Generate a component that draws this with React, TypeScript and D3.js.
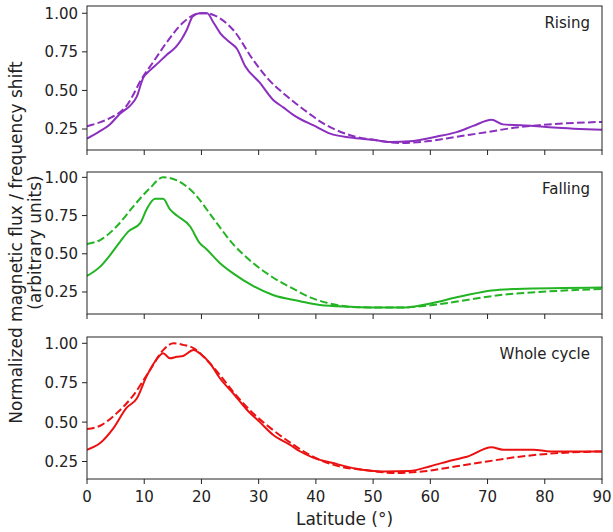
import React from "react";
import * as d3 from "d3";

// ---------- data ----------
const risingObsLat = [0, 2, 4, 5.8, 7.5, 8.7, 9.8, 11, 12.5, 13.9, 15.5, 16.5, 17.4, 18.5, 19.7, 21, 22.1, 23.3, 25, 26.2, 27.6, 30.2, 32.5, 34.3, 36.1, 37.5, 39.5, 42.5, 46, 50, 53, 56.4, 61, 64.6, 67.5, 70.7, 72.7, 78, 81.5, 90];
const risingObsVal = [0.188, 0.23, 0.28, 0.35, 0.4, 0.46, 0.58, 0.63, 0.68, 0.73, 0.78, 0.83, 0.89, 0.98, 1.0, 1.0, 0.94, 0.87, 0.81, 0.77, 0.66, 0.55, 0.44, 0.39, 0.34, 0.31, 0.275, 0.22, 0.195, 0.18, 0.166, 0.17, 0.2, 0.23, 0.27, 0.31, 0.28, 0.27, 0.26, 0.245];
const risingModLat = [0, 2, 4, 6.9, 9.8, 11.5, 13.9, 16.8, 19.7, 21, 22, 25.6, 29, 31.5, 35, 37.2, 39, 40.7, 46, 50, 54.7, 59.4, 64.6, 69.9, 75, 79, 90];
const risingModVal = [0.268, 0.29, 0.32, 0.4, 0.59, 0.68, 0.81, 0.94, 1.0, 1.0, 0.99, 0.89, 0.7, 0.58, 0.46, 0.395, 0.345, 0.3, 0.21, 0.18, 0.16, 0.17, 0.2, 0.23, 0.26, 0.275, 0.296];

const fallingObsLat = [0, 2.3, 4, 5.8, 7.2, 9.3, 10.4, 11.9, 13.3, 14.5, 15.7, 18, 19.7, 20.9, 23.2, 25.6, 29, 32.5, 37.2, 40.7, 46, 51.8, 55, 59.4, 64.6, 66.4, 70.7, 75, 90];
const fallingObsVal = [0.355, 0.416, 0.49, 0.58, 0.645, 0.7, 0.79, 0.86, 0.86, 0.79, 0.75, 0.68, 0.57, 0.53, 0.44, 0.37, 0.29, 0.23, 0.19, 0.165, 0.154, 0.148, 0.148, 0.17, 0.215, 0.23, 0.26, 0.27, 0.28];
const fallingModLat = [0, 2.3, 5.2, 8.1, 11, 13.3, 15.7, 18.6, 22.1, 25.6, 29, 32.5, 36.1, 39, 41.9, 47.7, 54.7, 60.5, 66.4, 72.2, 79, 90];
const fallingModVal = [0.564, 0.59, 0.68, 0.81, 0.93, 1.0, 0.98, 0.9, 0.73, 0.56, 0.44, 0.345, 0.27, 0.215, 0.18, 0.15, 0.148, 0.165, 0.198, 0.23, 0.25, 0.27];

const wholeObsLat = [0, 2.3, 4.6, 6.9, 8.7, 10.4, 12.2, 13.3, 14.5, 15.7, 16.8, 18.6, 19.7, 21.5, 23.2, 25.6, 27.9, 30.2, 32.5, 35.5, 37.2, 39.5, 43, 47.1, 51.8, 56.4, 60, 64, 66.4, 70.7, 72.7, 78, 81, 90];
const wholeObsVal = [0.325, 0.367, 0.46, 0.59, 0.65, 0.79, 0.9, 0.937, 0.905, 0.915, 0.92, 0.957, 0.937, 0.873, 0.78, 0.68, 0.58, 0.5, 0.42, 0.356, 0.315, 0.275, 0.24, 0.204, 0.187, 0.19, 0.22, 0.26, 0.28, 0.34, 0.325, 0.325, 0.314, 0.314];
const wholeModLat = [0, 2.3, 5.2, 8.1, 11, 13.3, 15.1, 16.8, 18.6, 20.9, 23.2, 25.6, 29, 32.5, 36.1, 39, 43, 48.9, 54, 59.4, 64.6, 69.9, 75, 81, 90];
const wholeModVal = [0.456, 0.477, 0.557, 0.67, 0.83, 0.957, 1.0, 0.99, 0.97, 0.895, 0.8, 0.69, 0.557, 0.45, 0.356, 0.29, 0.23, 0.194, 0.177, 0.19, 0.22, 0.25, 0.278, 0.3, 0.314];

const panelTitles = ["Rising", "Falling", "Whole cycle"];
const xTicks = [0, 10, 20, 30, 40, 50, 60, 70, 80, 90];
const yTicks = [0.25, 0.5, 0.75, 1.0];
const xLabel = "Latitude (°)";
const yLabel1 = "Normalized magnetic flux / frequency shift";
const yLabel2 = "(arbitrary units)";

// ---------- layout ----------
const W = 613, H = 532;
const left = 87, right = 602;
const panels = [
  { top: 6, bottom: 150, domain: [0.114, 1.047], color: "#8b2fbf", obsLat: risingObsLat, obsVal: risingObsVal, modLat: risingModLat, modVal: risingModVal },
  { top: 172, bottom: 314, domain: [0.106, 1.035], color: "#22b422", obsLat: fallingObsLat, obsVal: fallingObsVal, modLat: fallingModLat, modVal: fallingModVal },
  { top: 337, bottom: 479, domain: [0.139, 1.04], color: "#ec1111", obsLat: wholeObsLat, obsVal: wholeObsVal, modLat: wholeModLat, modVal: wholeModVal },
];
const font = "'DejaVu Sans', sans-serif";

export default function App() {
  const x = d3.scaleLinear().domain([0, 90]).range([left, right]);
  return (
    <svg width={W} height={H} style={{ position: "absolute", left: 0, top: 0, background: "#fff" }} fontFamily={font}>
      {panels.map((p, i) => {
        const y = d3.scaleLinear().domain(p.domain).range([p.bottom, p.top]);
        const line = d3.line<[number, number]>().x(d => x(d[0])).y(d => y(d[1])).curve(d3.curveMonotoneX);
        const obs = p.obsLat.map((l, k) => [l, p.obsVal[k]] as [number, number]);
        const mod = p.modLat.map((l, k) => [l, p.modVal[k]] as [number, number]);
        return (
          <g key={i}>
            <defs>
              <clipPath id={`clip${i}`}>
                <rect x={left} y={p.top} width={right - left} height={p.bottom - p.top} />
              </clipPath>
            </defs>
            <g clipPath={`url(#clip${i})`}>
              <path d={line(mod) || ""} fill="none" stroke={p.color} strokeWidth={2} strokeDasharray="7.7,3.3" />
              <path d={line(obs) || ""} fill="none" stroke={p.color} strokeWidth={2} />
            </g>
            <rect x={left} y={p.top} width={right - left} height={p.bottom - p.top} fill="none" stroke="#222" strokeWidth={1} />
            {yTicks.map(t => (
              <g key={t}>
                <line x1={left - 5} x2={left} y1={y(t)} y2={y(t)} stroke="#222" strokeWidth={1} />
                <text x={left - 9} y={y(t)} dy="0.36em" textAnchor="end" fontSize={15} fill="#222">{t.toFixed(2)}</text>
              </g>
            ))}
            {xTicks.map(t => (
              <line key={t} x1={x(t)} x2={x(t)} y1={p.bottom} y2={p.bottom + 5} stroke="#222" strokeWidth={1} />
            ))}
            <text x={right - 12} y={p.top + 22} textAnchor="end" fontSize={15} fill="#222">{panelTitles[i]}</text>
          </g>
        );
      })}
      {xTicks.map(t => (
        <text key={t} x={x(t)} y={502} textAnchor="middle" fontSize={15} fill="#222">{t}</text>
      ))}
      <text x={(left + right) / 2} y={525} textAnchor="middle" fontSize={17} fill="#222">{xLabel}</text>
      <g transform={`translate(22, ${(6 + 479) / 2}) rotate(-90)`}>
        <text x={0} y={0} textAnchor="middle" fontSize={17} fill="#222">{yLabel1}</text>
        <text x={0} y={19} textAnchor="middle" fontSize={17} fill="#222">{yLabel2}</text>
      </g>
    </svg>
  );
}
